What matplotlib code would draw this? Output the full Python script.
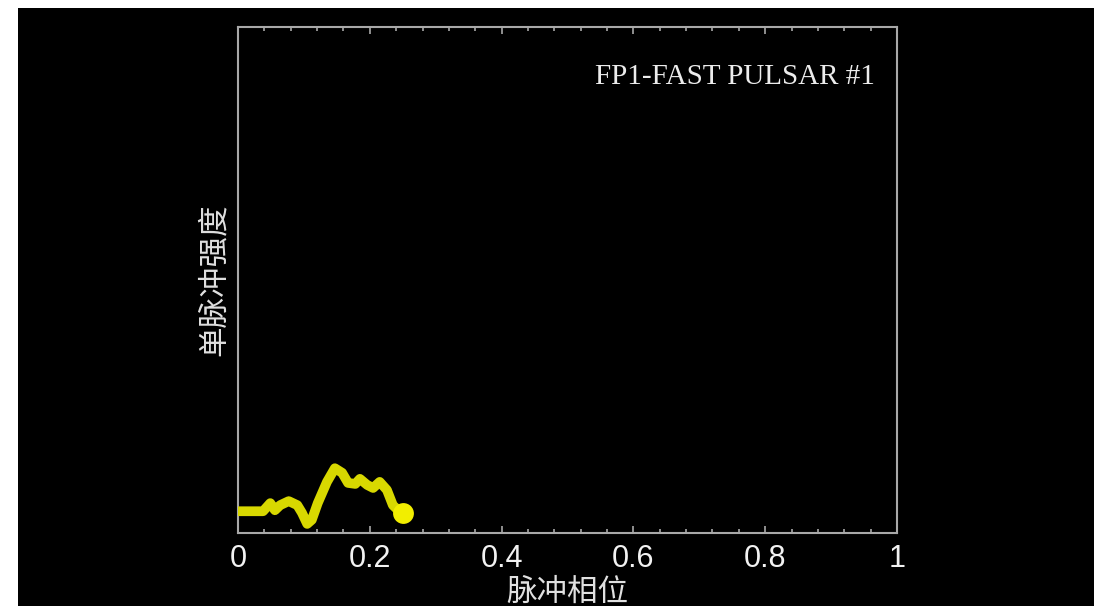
import matplotlib
matplotlib.use("Agg")
import matplotlib.pyplot as plt
from matplotlib.ticker import FixedLocator, MultipleLocator, FixedFormatter

# Pulse phase and single-pulse intensity (partial sweep)
phase = [0.000, 0.038, 0.049, 0.056, 0.064, 0.077, 0.090, 0.097, 0.105, 0.112,
         0.121, 0.135, 0.147, 0.158, 0.167, 0.178, 0.185, 0.196, 0.205, 0.215,
         0.226, 0.235, 0.243, 0.250]
intensity = [0.043, 0.043, 0.059, 0.045, 0.055, 0.063, 0.055, 0.040, 0.018, 0.026,
             0.059, 0.101, 0.128, 0.119, 0.099, 0.097, 0.107, 0.095, 0.089, 0.101,
             0.085, 0.055, 0.045, 0.040]

xtick_values = [0, 0.2, 0.4, 0.6, 0.8, 1.0]
xtick_labels = ["0", "0.2", "0.4", "0.6", "0.8", "1"]
title_text = "FP1-FAST PULSAR #1"
xlabel_text = "脉冲相位"
ylabel_text = "单脉冲强度"

W, H = 1099, 606
fig = plt.figure(figsize=(W / 100, H / 100), dpi=100, facecolor="white")

# black panel behind the plot
bg = fig.add_axes([18 / W, 0, (1094 - 18) / W, (H - 8) / H], zorder=-1)
bg.set_axis_off()
bg.add_patch(plt.Rectangle((0, 0), 1, 1, transform=bg.transAxes,
                           facecolor="black", edgecolor="none"))

ax = fig.add_axes([238 / W, (H - 533) / H, (897 - 238) / W, (533 - 27) / H], zorder=1)
ax.set_facecolor("black")

spine_col = "#a8a8a8"
for s in ax.spines.values():
    s.set_color(spine_col)
    s.set_linewidth(1.5)

ax.plot(phase, intensity, color="#d8d800", lw=7, solid_capstyle="round",
        solid_joinstyle="round", zorder=3)
ax.plot(phase[-1], intensity[-1], "o", color="#f2ee00", ms=15, mec="none", zorder=4)

ax.set_xlim(0, 1)
ax.set_ylim(0, 1)

ax.xaxis.set_major_locator(FixedLocator(xtick_values))
ax.xaxis.set_major_formatter(FixedFormatter(xtick_labels))
ax.xaxis.set_minor_locator(MultipleLocator(0.04))
ax.set_yticks([])

ax.tick_params(axis="x", which="both", direction="in", top=True, bottom=True,
               color=spine_col, width=1.2)
ax.tick_params(axis="x", which="major", length=5, pad=8, labelsize=22,
               labelcolor="#f2f2f2")
ax.tick_params(axis="x", which="minor", length=3)
for lab in ax.get_xticklabels():
    lab.set_fontfamily("Liberation Sans")

ax.set_xlabel(xlabel_text, fontsize=22, color="#e0e0e0",
              family=["Noto Sans CJK SC", "DejaVu Sans"], labelpad=2)
ax.set_ylabel(ylabel_text, fontsize=22, color="#e0e0e0",
              family=["Noto Sans CJK SC", "DejaVu Sans"], labelpad=6)

ax.text((875 - 238) / 659, (533 - 77) / 506, title_text, transform=ax.transAxes,
        ha="right", va="center", fontsize=21, color="#ececec",
        family="Liberation Serif")

fig.savefig("out.png", dpi=100, facecolor="white")
